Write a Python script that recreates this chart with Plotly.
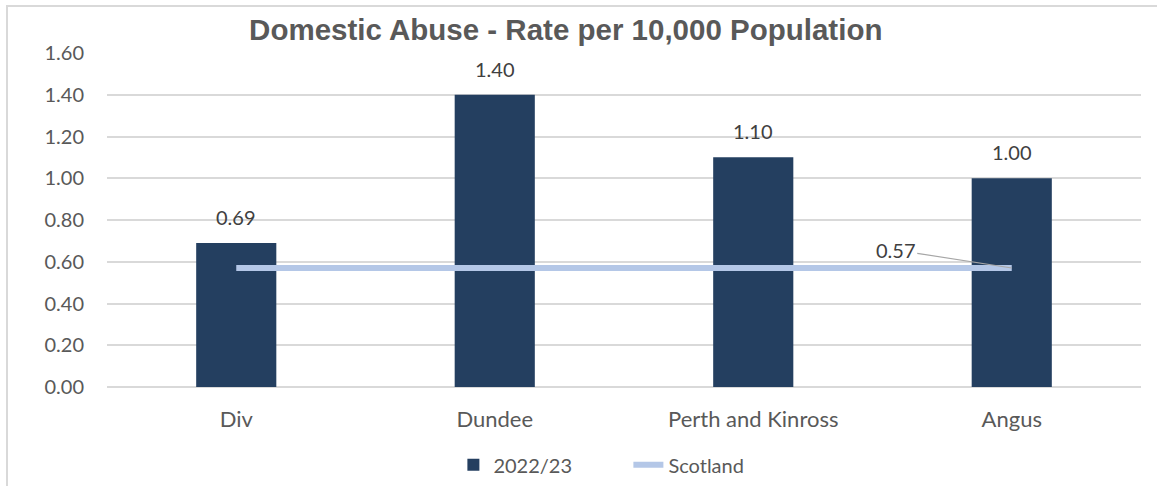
import plotly.graph_objects as go

# Dane z wykresu
kategorie = ['Div', 'Dundee', 'Perth and Kinross', 'Angus']
wartosci_2223 = [0.69, 1.40, 1.10, 1.00]
szkocja = [0.57, 0.57, 0.57, 0.57]
etykiety_y = ['0.00', '0.20', '0.40', '0.60', '0.80', '1.00', '1.20', '1.40', '1.60']

granat = '#243F60'
jasny = '#B4C7E7'
szary_txt = '#595959'
font_osi = 'Lato, Noto Sans, sans-serif'

fig = go.Figure()
fig.add_trace(go.Bar(x=kategorie, y=wartosci_2223, name='2022/23',
                     marker=dict(color=granat, line=dict(width=0))))
fig.add_trace(go.Scatter(x=kategorie, y=szkocja, name='Scotland', mode='lines',
                         line=dict(color=jasny, width=6)))

# etykiety nad slupkami
for k, v in zip(kategorie, wartosci_2223):
    fig.add_annotation(x=k, y=v, text=f'{v:.2f}', showarrow=False, yanchor='bottom',
                       yshift=12, font=dict(size=20, color='#404040', family=font_osi))

# etykieta linii Szkocji (tylko ostatni punkt)
fig.add_annotation(x=kategorie[-1], y=szkocja[-1], text=f'{szkocja[-1]:.2f}', showarrow=True,
                   arrowhead=0, arrowwidth=1.2, arrowcolor='#A6A6A6', ax=-116, ay=-18,
                   standoff=0, font=dict(size=20, color='#404040', family=font_osi))

# ramka wykresu
fig.add_shape(type='rect', xref='paper', yref='paper', x0=-0.0967, x1=1.1, y0=-0.4, y1=1.1407,
              line=dict(color='#D9D9D9', width=2), layer='below')

tickvals = [float(t) for t in etykiety_y]
fig.update_layout(
    width=1157, height=486,
    margin=dict(l=107, r=16, t=53, b=99, autoexpand=False),
    plot_bgcolor='white', paper_bgcolor='white',
    title=dict(text='<b>Domestic Abuse - Rate per 10,000 Population</b>', x=0.489, xanchor='center',
               y=1 - 30 / 486, yanchor='middle',
               font=dict(family='Liberation Sans, Arial', size=29.5, color=szary_txt)),
    bargap=0.69,
    showlegend=True,
    legend=dict(orientation='h', x=0.335, xanchor='left', y=-0.233, yanchor='middle',
                entrywidth=130,
                font=dict(family=font_osi, size=20, color=szary_txt)),
    xaxis=dict(showgrid=False, showline=False, ticks='', automargin=False, ticklabelstandoff=17,
               tickfont=dict(family=font_osi, size=22, color=szary_txt)),
    yaxis=dict(range=[0, 1.6], tickvals=tickvals, ticktext=etykiety_y, showgrid=True, automargin=False,
               ticklabelstandoff=22,
               gridcolor='#D9D9D9', gridwidth=1.5, zeroline=True, zerolinecolor='#D9D9D9', zerolinewidth=1.5,
               ticks='', tickfont=dict(family=font_osi, size=20, color=szary_txt)),
)

# bez marginesu strony, zeby wykres zaczynal sie w rogu okna
fig.write_html('out.html', config={'displayModeBar': False},
               post_script="document.body.style.margin='0';")
